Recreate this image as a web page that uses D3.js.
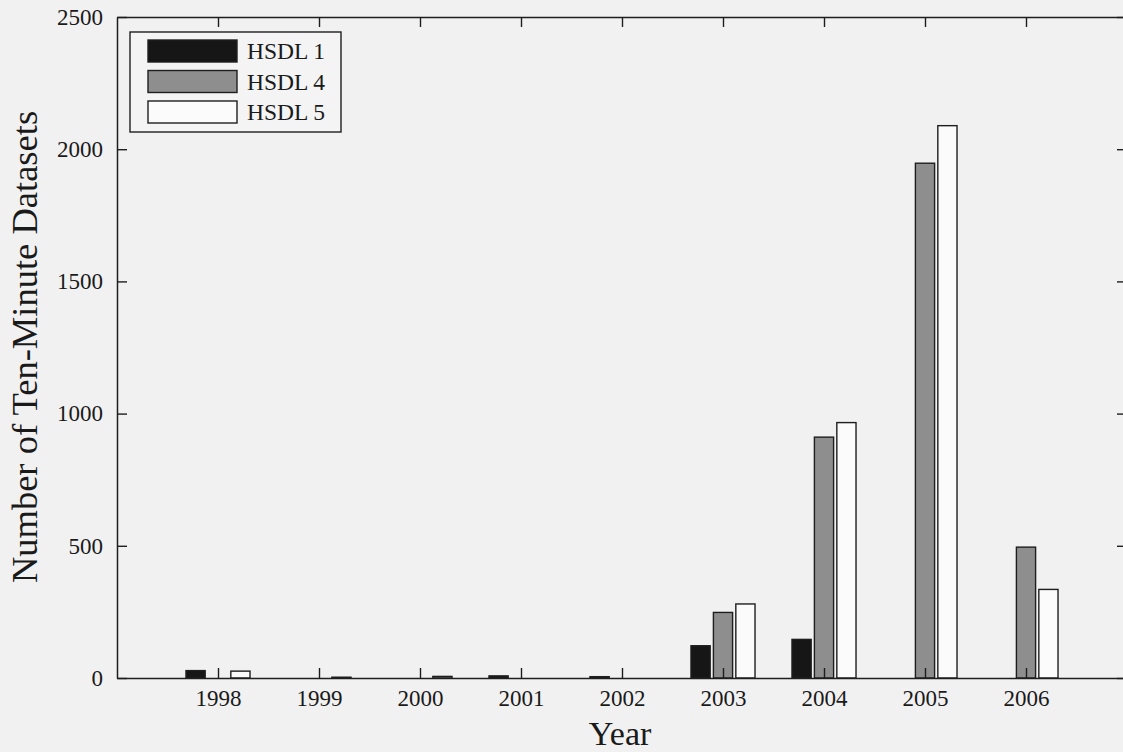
<!DOCTYPE html>
<html>
<head>
<meta charset="utf-8">
<script src="https://cdn.jsdelivr.net/npm/d3@7"></script>
<style>
  body { margin: 0; background: #f1f1f1; }
  svg { display: block; }
  text { font-family: "Liberation Serif", "Times New Roman", serif; fill: #1a1a1a; }
</style>
</head>
<body>
<svg width="1123" height="752"></svg>
<script>
// data
var years = [1998, 1999, 2000, 2001, 2002, 2003, 2004, 2005, 2006];
var hsdl1 = [28, 0, 0, 8, 5, 122, 146, 0, 0];
var hsdl4 = [0, 0, 0, 0, 0, 248, 911, 1947, 495];
var hsdl5 = [26, 3, 6, 0, 0, 280, 966, 2089, 335];
var seriesNames = ["HSDL 1", "HSDL 4", "HSDL 5"];
var yTicks = [0, 500, 1000, 1500, 2000, 2500];

var fills = ["#161616", "#8e8e8e", "#fbfbfb"];

var svg = d3.select("svg");
var plotL = 117, plotR = 1127, plotT = 17, plotB = 678;

var x = d3.scaleLinear().domain([1997, 2007]).range([plotL, plotR]);
var y = d3.scaleLinear().domain([0, 2500]).range([plotB, plotT]);

// grouped bar layout, in years
var groupOffsets = [-0.222, 0, 0.222];
var barW = 0.19;

var series = [hsdl1, hsdl4, hsdl5];

// bars
var g = svg.append("g");
series.forEach(function(vals, s) {
  g.selectAll(".bar" + s)
    .data(vals)
    .enter()
    .append("rect")
    .attr("x", function(d, i) { return x(years[i] + groupOffsets[s] - barW / 2); })
    .attr("width", x(1997 + barW) - x(1997))
    .attr("y", function(d) { return y(d); })
    .attr("height", function(d) { return y(0) - y(d); })
    .attr("fill", fills[s])
    .attr("stroke", "#1e1e1e")
    .attr("stroke-width", 1.4);
});

// axes
var xa = svg.append("g").attr("transform", "translate(0," + plotB + ")")
  .call(d3.axisBottom(x).tickValues(years).tickFormat(d3.format("d")).tickSizeInner(-10).tickSizeOuter(0));
svg.append("g").attr("transform", "translate(0," + plotT + ")")
  .call(d3.axisTop(x).tickValues(years).tickFormat("").tickSizeInner(-10).tickSizeOuter(0));
var ya = svg.append("g").attr("transform", "translate(" + plotL + ",0)")
  .call(d3.axisLeft(y).tickValues(yTicks).tickFormat(d3.format("d")).tickSizeInner(-10).tickSizeOuter(0));
svg.append("g").attr("transform", "translate(" + plotR + ",0)")
  .call(d3.axisRight(y).tickValues(yTicks).tickFormat("").tickSizeInner(-10).tickSizeOuter(0));

svg.selectAll(".domain").attr("stroke", "#1e1e1e").attr("stroke-width", 1.5);
svg.selectAll(".tick line").attr("stroke", "#1e1e1e").attr("stroke-width", 1.4);
svg.selectAll(".tick text")
  .style("font-family", "Liberation Serif, serif")
  .style("font-size", "23px")
  .attr("fill", "#1a1a1a");
xa.selectAll(".tick text").attr("y", 12).attr("dy", "0.71em");
ya.selectAll(".tick text").attr("x", -14).attr("dy", "0.32em");

// axis titles
svg.append("text")
  .attr("x", 620)
  .attr("y", 745)
  .attr("text-anchor", "middle")
  .style("font-size", "34px")
  .text("Year");

svg.append("text")
  .attr("transform", "translate(37,347) rotate(-90)")
  .attr("text-anchor", "middle")
  .style("font-size", "36.5px")
  .text("Number of Ten-Minute Datasets");

// legend
var lg = svg.append("g");
lg.append("rect")
  .attr("x", 130).attr("y", 32).attr("width", 211).attr("height", 100)
  .attr("fill", "#f4f4f4").attr("stroke", "#1e1e1e").attr("stroke-width", 1.4);
seriesNames.forEach(function(name, i) {
  lg.append("rect")
    .attr("x", 148).attr("y", 40 + i * 30.5).attr("width", 89).attr("height", 22)
    .attr("fill", fills[i]).attr("stroke", "#1e1e1e").attr("stroke-width", 1.4);
  lg.append("text")
    .attr("x", 247).attr("y", 59 + i * 30.5)
    .style("font-size", "23.5px")
    .text(name);
});
</script>
</body>
</html>
